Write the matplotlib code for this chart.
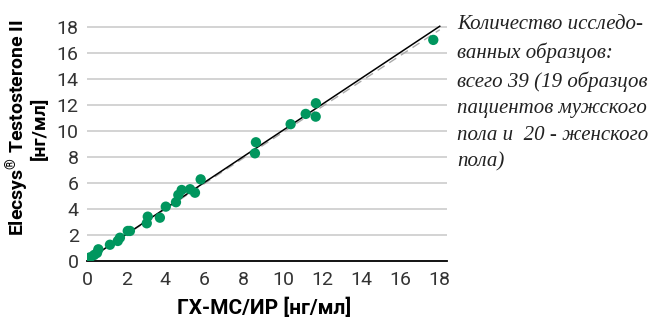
import numpy as np
import matplotlib
matplotlib.use("Agg")
import matplotlib.pyplot as plt

# Reference method (GC-MS/IR) vs Elecsys values, ng/ml
x_ref = [0.15, 0.36, 0.51, 0.58, 1.17, 1.57, 1.68, 2.08, 2.19, 3.05, 3.10, 3.72,
         4.02, 4.54, 4.66, 4.83, 5.26, 5.51, 5.80, 8.57, 8.62, 10.39, 11.16,
         11.67, 11.68, 17.67]
y_elec = [0.28, 0.46, 0.62, 0.90, 1.25, 1.54, 1.79, 2.31, 2.31, 2.90, 3.41, 3.33,
          4.18, 4.52, 5.08, 5.46, 5.52, 5.25, 6.28, 8.28, 9.13, 10.52, 11.31,
          11.10, 12.13, 17.00]

# regression line (solid) and reference line (dashed)
fit_slope, fit_icpt = 1.0, 0.05
ref_slope, ref_icpt = 0.985, 0.05
line_x = [0, 18]

ticks = [0, 2, 4, 6, 8, 10, 12, 14, 16, 18]

note = ("Количество исследо-\nванных образцов:\nвсего 39 (19 образцов\n"
        "пациентов мужского\nпола и  20 - женского\nпола)")

green = "#00965e"

plt.rcParams["mathtext.fontset"] = "custom"
plt.rcParams["mathtext.bf"] = "Roboto:bold"
plt.rcParams["mathtext.rm"] = "Roboto:bold"

fig = plt.figure(figsize=(6.48, 3.18), dpi=100)
ax = fig.add_axes([87/648, 57/318, 360/648, 238/318])

for t in ticks[1:]:
    ax.axhline(t, color="#cccccc", lw=1.2, zorder=0)

lx = np.array(line_x)
ax.plot(lx, ref_slope*lx + ref_icpt, color="#aaaaaa", lw=1, ls=(0, (6, 4)), zorder=1)
ax.plot(lx, fit_slope*lx + fit_icpt, color="black", lw=1.1, zorder=2)
ax.scatter(x_ref, y_elec, s=55, color=green, edgecolors="none", zorder=3)

ax.set_xlim(0, 18.37)
ax.set_ylim(0, 18.3)
ax.set_xticks(ticks)
ax.set_yticks(ticks)
for s in ["top", "right", "left"]:
    ax.spines[s].set_visible(False)
ax.spines["bottom"].set_color("black")
ax.spines["bottom"].set_linewidth(1.3)
ax.tick_params(length=0, labelsize=14, labelcolor="#333333")
ax.tick_params(axis="y", pad=6)
ax.tick_params(axis="x", pad=7)
for lab in ax.get_xticklabels() + ax.get_yticklabels():
    lab.set_fontfamily("Roboto")

fig.text(264/648, 1 - 308/318, "ГХ-МС/ИР [нг/мл]", ha="center", va="center",
         fontsize=15, fontweight="bold", family="Roboto")
fig.text(26/648, 1 - 128/318, "Elecsys$^{\\mathrm{®}}$ Testosterone II\n[нг/мл]",
         ha="center", va="center", rotation=90, fontsize=14, fontweight="bold",
         family="Roboto", linespacing=1.0, multialignment="center")

fig.text(457/648, 1 - 15/318, note, ha="left", va="top", fontsize=15,
         style="italic", family="Liberation Serif", linespacing=1.54,
         color="#222222")

fig.savefig("out.png", dpi=100)
